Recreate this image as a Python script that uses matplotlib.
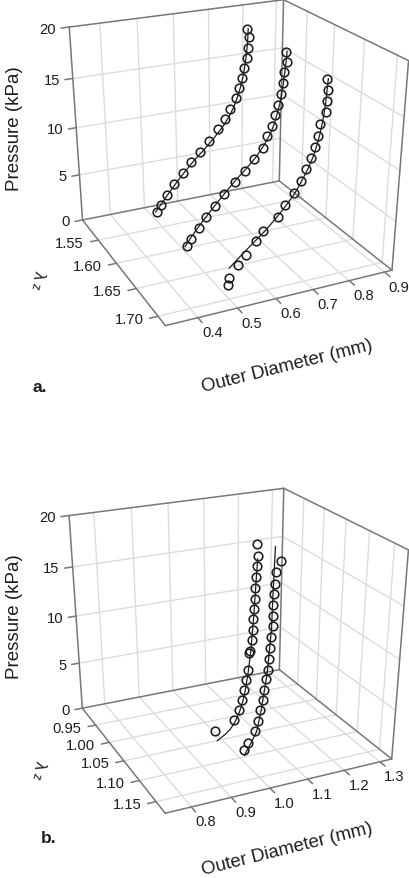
"""Two 3D pressure / diameter / stretch panels, drawn with a fitted perspective camera."""
import numpy as np, matplotlib
matplotlib.use('Agg')
import matplotlib.pyplot as plt

plt.rcParams['font.family'] = ['Liberation Sans', 'DejaVu Sans']

# ── data ──
p_ticks = [0, 5, 10, 15, 20]
od_ticks_a = [0.4, 0.5, 0.6, 0.7, 0.8, 0.9]
lam_ticks_a = [1.55, 1.60, 1.65, 1.70]
od_ticks_b = [0.8, 0.9, 1.0, 1.1, 1.2, 1.3]
lam_ticks_b = [0.95, 1.00, 1.05, 1.10, 1.15]

lam_a = [1.517, 1.597, 1.678]
lam_b = [1.027, 1.085]

od_a1 = [.793, .799, .796, .793, .786, .779, .771, .762, .745, .728, .709, .680, .654, .625, .601, .575, .552, .535, .521]
p_a1 = [18.0, 17.1, 16.0, 15.0, 14.0, 13.0, 12.0, 10.9, 9.9, 8.9, 7.9, 6.8, 5.8, 4.8, 3.8, 2.7, 1.7, 0.7, 0.0]
od_a2 = [.790, .794, .787, .785, .781, .772, .765, .755, .741, .730, .707, .681, .653, .622, .597, .570, .549, .527, .517]
p_a2 = [18.0, 17.0, 16.0, 15.0, 13.9, 12.9, 11.9, 10.9, 9.9, 8.8, 7.8, 6.7, 5.8, 4.8, 3.7, 2.7, 1.7, 0.7, 0.0]
od_a3 = [.777, .780, .778, .777, .764, .760, .753, .743, .731, .716, .698, .675, .657, .618, .601, .573, .552, .529, .525]
p_a3 = [18.0, 17.0, 16.0, 15.0, 14.0, 12.9, 11.9, 10.9, 9.9, 8.9, 7.8, 6.8, 5.8, 4.7, 3.8, 2.7, 1.8, 0.7, 0.0]
od_b1 = [1.119, 1.120, 1.118, 1.117, 1.115, 1.113, 1.112, 1.110, 1.109, 1.107, 1.102, 1.100, 1.097, 1.092, 1.087, 1.080, 1.071, 1.057, 1.004]
p_b1 = [18.2, 17.1, 16.1, 15.1, 14.0, 13.0, 12.0, 11.0, 9.9, 8.9, 7.8, 7.6, 5.8, 4.8, 3.8, 2.8, 1.8, 0.8, 0.0]
od_b2 = [1.117, 1.106, 1.104, 1.102, 1.100, 1.100, 1.100, 1.096, 1.095, 1.091, 1.089, 1.084, 1.081, 1.077, 1.071, 1.065, 1.056, 1.039, 1.026]
p_b2 = [18.0, 17.1, 16.0, 15.1, 14.0, 13.0, 12.0, 11.0, 9.9, 8.9, 7.8, 6.9, 5.8, 4.8, 3.8, 2.8, 1.8, 0.7, 0.0]

# fitted curves
fit_p_a1 = [0, 1, 2, 3, 4, 5, 6, 7, 8, 9, 10, 11, 12, 13, 14, 15, 16, 17, 18]
fit_od_a1 = [.518, .540, .562, .585, .610, .637, .667, .695, .720, .740, .755, .766, .775, .782, .787, .791, .794, .796, .797]
fit_p_a2 = [0, 1, 2, 3, 4, 5, 6, 7, 8, 9, 10, 11, 12, 13, 14, 15, 16, 17, 18]
fit_od_a2 = [.510, .530, .553, .577, .602, .628, .655, .685, .712, .733, .750, .762, .770, .777, .782, .786, .789, .792, .794]
fit_p_a3 = [1.7, 2.7, 3.7, 4.7, 5.8, 6.8, 7.8, 8.9, 9.9, 10.9, 11.9, 12.9, 14, 15, 16, 17, 18]
fit_od_a3 = [.529, .560, .592, .625, .655, .680, .702, .720, .735, .747, .756, .763, .769, .773, .776, .778, .780]
fit_p_b1 = [-1.1, -0.6, -0.15, 0.5, 1.4, 2.5, 3.6, 5.5, 7.7, 11.7, 15, 16.8]
fit_od_b1 = [1.010, 1.032, 1.047, 1.060, 1.072, 1.082, 1.089, 1.097, 1.104, 1.112, 1.117, 1.120]
fit_p_b2 = [-0.55, 0.6, 1.65, 3.6, 7.3, 11.7, 14.9, 19.4]
fit_od_b2 = [1.028, 1.046, 1.061, 1.072, 1.087, 1.097, 1.099, 1.103]

EDGE = '#777777'; GRID = '#dcdcdc'; INK = '#1e1e1e'


def fit_camera(A, B, C, D, A2, B2, C2):
    # DLT on the box corners, in unit-cube coordinates
    rows = []
    for (X, Y, Z), (u, v) in zip([(0,0,0),(1,0,0),(1,1,0),(0,1,0),(0,0,1),(1,0,1),(1,1,1)], [A,B,C,D,A2,B2,C2]):
        rows.append([X, Y, Z, 1, 0, 0, 0, 0, -u*X, -u*Y, -u*Z, -u])
        rows.append([0, 0, 0, 0, X, Y, Z, 1, -v*X, -v*Y, -v*Z, -v])
    return np.linalg.svd(np.array(rows, float))[2][-1].reshape(3, 4)


def panel(ax, cam, odlim, lamlim, od_ticks, lam_ticks, curves, fits, tag, tag_xy, ylab_xy, xlab_xy, lam_xy):
    def pr(od, lam, p):
        od, lam, p = np.broadcast_arrays(np.atleast_1d(od).astype(float), np.atleast_1d(lam).astype(float), np.atleast_1d(p).astype(float))
        h = cam @ np.vstack([(od-odlim[0])/(odlim[1]-odlim[0]), (lam-lamlim[0])/(lamlim[1]-lamlim[0]), p/20, np.ones(od.shape)])
        return h[0]/h[2], h[1]/h[2]

    def pt(od, lam, p):
        u, v = pr(od, lam, p)
        return float(u[0]), float(v[0])

    def seg(a, b, **kw):
        u, v = pr([a[0], b[0]], [a[1], b[1]], [a[2], b[2]])
        ax.plot(u, v, solid_capstyle='round', **kw)

    o0, o1 = odlim; l0, l1 = lamlim
    grid = dict(color=GRID, lw=1.0, zorder=1)
    edge = dict(color=EDGE, lw=1.1, zorder=2)
    for o in od_ticks:
        seg((o, l0, 0), (o, l1, 0), **grid)
        seg((o, l0, 0), (o, l0, 20), **grid)
    for l in lam_ticks:
        seg((o0, l, 0), (o1, l, 0), **grid)
        seg((o1, l, 0), (o1, l, 20), **grid)
    for p in p_ticks[1:-1]:
        seg((o0, l0, p), (o1, l0, p), **grid)
        seg((o1, l0, p), (o1, l1, p), **grid)

    for a, b in [((o0,l0,0),(o1,l0,0)), ((o1,l0,0),(o1,l1,0)), ((o1,l1,0),(o0,l1,0)), ((o0,l1,0),(o0,l0,0)),
                 ((o0,l0,0),(o0,l0,20)), ((o1,l0,0),(o1,l0,20)), ((o1,l1,0),(o1,l1,20)),
                 ((o0,l0,20),(o1,l0,20)), ((o1,l0,20),(o1,l1,20))]:
        seg(a, b, **edge)

    # ticks and their labels
    dod = 0.035*(o1-o0); dlam = 0.04*(l1-l0)
    for p in p_ticks:
        seg((o0-dod, l0, p), (o0, l0, p), **edge)
        u, v = pt(o0, l0, p)
        ax.text(u-13, v+1.5, str(p), ha='right', va='center', fontsize=10.6, color=INK)
    for l in lam_ticks:
        seg((o0-dod, l, 0), (o0, l, 0), **edge)
        u, v = pt(o0, l, 0)
        ax.text(u-29, v+2.5, f'{l:.2f}', ha='center', va='center', fontsize=10.6, color=INK)
    for o in od_ticks:
        seg((o, l1, 0), (o, l1+dlam, 0), **edge)
        u, v = pt(o, l1, 0)
        ax.text(u+14.5, v+14.5, f'{o:.1f}', ha='center', va='center', fontsize=10.6, color=INK)

    for lam, od, p in fits:
        u, v = pr(od, lam, p)
        ax.plot(u, v, color=INK, lw=0.9, zorder=3)
    for lam, od, p in curves:
        u, v = pr(od, lam, p)
        ax.plot(u, v, ls='none', marker='o', ms=6.2, mfc='none', mec=INK, mew=1.15, zorder=4)

    ax.text(*ylab_xy, 'Pressure (kPa)', rotation=90, ha='center', va='center', fontsize=13.5, color=INK)
    ax.text(*xlab_xy, 'Outer Diameter (mm)', rotation=14, ha='center', va='center', fontsize=13.4, color=INK, rotation_mode='anchor')
    ax.text(*lam_xy, '\u03bb', rotation=-105, ha='center', va='center', fontsize=12, color=INK)
    ax.text(lam_xy[0]-3, lam_xy[1]+11, 'z', rotation=-105, ha='center', va='center', fontsize=9, color=INK)
    ax.text(*tag_xy, tag, ha='center', va='center', fontsize=12.5, fontweight='bold', color=INK)


fig = plt.figure(figsize=(4.1, 8.79), dpi=100)
ax = fig.add_axes([0, 0, 1, 1])
ax.set_xlim(0, 410); ax.set_ylim(879, 0); ax.axis('off')

cam_a = fit_camera((82.3,220.7), (279.3,181.7), (391.7,271.7), (166,326.7), (69,28.3), (284,1), (408.3,61))
cam_b = fit_camera((82.3,709), (279.3,670.7), (391.7,760), (165.3,814.3), (69,516.7), (284,489.3), (408.3,550.7))

panel(ax, cam_a, (0.320, 0.922), (1.503, 1.716), od_ticks_a, lam_ticks_a,
      [(lam_a[0], od_a1, p_a1), (lam_a[1], od_a2, p_a2), (lam_a[2], od_a3, p_a3)],
      [(lam_a[0], fit_od_a1, fit_p_a1), (lam_a[1], fit_od_a2, fit_p_a2), (lam_a[2], fit_od_a3, fit_p_a3)],
      'a.', (40, 388), (15, 129), (287, 367), (38, 275))
panel(ax, cam_b, (0.736, 1.334), (0.898, 1.176), od_ticks_b, lam_ticks_b,
      [(lam_b[0], od_b1, p_b1), (lam_b[1], od_b2, p_b2)],
      [(lam_b[0], fit_od_b1, fit_p_b1), (lam_b[1], fit_od_b2, fit_p_b2)],
      'b.', (49, 839), (15, 617), (287, 849.5), (39, 765))

fig.savefig('out.png', dpi=100)
